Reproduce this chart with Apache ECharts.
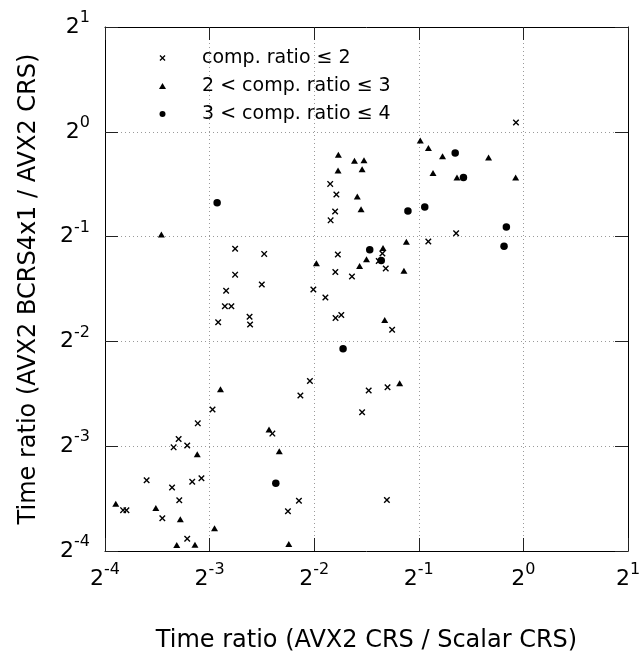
<!DOCTYPE html>
<html>
<head>
<meta charset="utf-8">
<script src="https://cdn.jsdelivr.net/npm/echarts@6/dist/echarts.min.js"></script>
<style>
  html, body { margin: 0; padding: 0; background: #fff; }
  #chart { width: 640px; height: 655px; }
</style>
</head>
<body>
<div id="chart"></div>
<script>
// values, stored as log2 exponents
const SERIES_NAMES = ["comp. ratio ≤ 2", "2 < comp. ratio ≤ 3", "3 < comp. ratio ≤ 4"];

// comp. ratio <= 2 (crosses)
const lowX = [-0.071, -1.847, -1.788, -1.800, -1.843, -0.643, -0.909, -2.756, -2.478, -1.774,
  -1.348, -1.383, -1.316, -2.756, -1.798, -1.639, -2.501, -2.842, -2.008, -1.893,
  -2.854, -2.792, -2.618, -2.918, -2.613, -1.796, -1.741, -1.255, -2.041, -2.132,
  -1.479, -1.299, -1.542, -2.972, -3.113, -2.400, -3.296, -3.344, -3.214, -3.602,
  -3.359, -3.166, -3.078, -3.290, -3.827, -3.795, -3.452, -3.214, -2.146, -2.251, -1.305];
const lowY = [0.089, -0.497, -0.599, -0.761, -0.845, -0.968, -1.046, -1.115, -1.165, -1.170,
  -1.162, -1.232, -1.304, -1.363, -1.337, -1.380, -1.458, -1.516, -1.504, -1.581,
  -1.665, -1.665, -1.764, -1.817, -1.839, -1.777, -1.748, -1.889, -2.378, -2.517,
  -2.469, -2.438, -2.676, -2.649, -2.782, -2.880, -2.932, -3.011, -2.994, -3.324,
  -3.394, -3.340, -3.305, -3.515, -3.610, -3.612, -3.687, -3.884, -3.521, -3.620, -3.513];

// 2 < comp. ratio <= 3 (triangles)
const midX = [-3.461, -1.769, -1.615, -1.524, -1.772, -1.542, -1.588, -1.552, -0.986, -0.908,
  -0.773, -0.333, -0.864, -0.635, -0.074, -1.119, -1.342, -1.979, -1.500, -1.566,
  -1.142, -1.326, -1.183, -2.896, -2.432, -2.334, -3.118, -3.897, -3.514, -3.280,
  -2.953, -3.314, -3.140, -2.243];
const midY = [-0.979, -0.220, -0.277, -0.272, -0.370, -0.358, -0.618, -0.740, -0.083, -0.155,
  -0.234, -0.245, -0.392, -0.436, -0.436, -1.049, -1.108, -1.254, -1.216, -1.280,
  -1.326, -1.796, -2.399, -2.457, -2.840, -3.049, -3.077, -3.548, -3.589, -3.696,
  -3.782, -3.942, -3.940, -3.933];

// 3 < comp. ratio <= 4 (dots)
const highX = [-2.928, -0.652, -0.573, -1.104, -0.943, -0.163, -0.185, -1.469, -1.359, -1.724, -2.367];
const highY = [-0.678, -0.202, -0.435, -0.756, -0.718, -0.909, -1.091, -1.125, -1.229, -2.071, -3.354];

const FONT = "DejaVu Sans";
const CROSS = "path://M0,1.5L1.5,0L5,3.5L8.5,0L10,1.5L6.5,5L10,8.5L8.5,10L5,6.5L1.5,10L0,8.5L3.5,5Z";

const toPoints = (xs, ys) => xs.map((e, i) => [Math.pow(2, e), Math.pow(2, ys[i])]);

const powLabel = (v) => "{b|2}{s|" + Math.round(Math.log2(v)) + "}";
const labelRich = {
  b: { fontSize: 22, lineHeight: 22, fontFamily: FONT, color: "#000", verticalAlign: "bottom" },
  s: { fontSize: 16, lineHeight: 16, fontFamily: FONT, color: "#000", verticalAlign: "bottom", padding: [0, 0, 12, 0] },
};

const tickStyle = { show: true, inside: true, length: 13, lineStyle: { color: "#222", width: 1 } };
const lineStyle = { show: true, lineStyle: { color: "#000", width: 1 } };
const gridLine = { show: true, lineStyle: { color: "#9a9a9a", type: [1, 3], width: 1 } };

const chart = echarts.init(document.getElementById("chart"), null, { renderer: "canvas" });

chart.setOption({
  backgroundColor: "#fff",
  animation: false,
  textStyle: { fontFamily: FONT },
  grid: { left: 105, right: 12, top: 27, bottom: 104, containLabel: false, outerBoundsMode: "none" },
  legend: {
    orient: "vertical",
    left: 154,
    top: 43,
    itemWidth: 7,
    itemHeight: 6,
    itemGap: 8,
    data: SERIES_NAMES,
    textStyle: { fontSize: 19, lineHeight: 20, color: "#000", fontFamily: FONT, padding: [0, 0, 0, 31] },
    selectedMode: false,
  },
  xAxis: [
    {
      type: "log", logBase: 2, min: 1 / 16, max: 2, splitNumber: 5,
      name: "Time ratio (AVX2 CRS / Scalar CRS)",
      nameLocation: "middle", nameGap: 78,
      nameTextStyle: { fontSize: 24, color: "#000", fontFamily: FONT },
      axisLine: lineStyle, axisTick: tickStyle, splitLine: gridLine, minorTick: { show: false },
      axisLabel: { formatter: powLabel, rich: labelRich, margin: 17 },
    },
    {
      type: "log", logBase: 2, min: 1 / 16, max: 2, splitNumber: 5, position: "top",
      axisLine: lineStyle, axisTick: tickStyle, splitLine: { show: false },
      axisLabel: { show: false },
    },
  ],
  yAxis: [
    {
      type: "log", logBase: 2, min: 1 / 16, max: 2, splitNumber: 5,
      name: "Time ratio (AVX2 BCRS4x1 / AVX2 CRS)",
      nameLocation: "middle", nameGap: 64,
      nameTextStyle: { fontSize: 24, color: "#000", fontFamily: FONT },
      axisLine: lineStyle, axisTick: tickStyle, splitLine: gridLine,
      axisLabel: { formatter: powLabel, rich: labelRich, margin: 15 },
    },
    {
      type: "log", logBase: 2, min: 1 / 16, max: 2, splitNumber: 5, position: "right",
      axisLine: lineStyle, axisTick: tickStyle, splitLine: { show: false },
      axisLabel: { show: false },
    },
  ],
  series: [
    {
      name: SERIES_NAMES[0], type: "scatter", xAxisIndex: 0, yAxisIndex: 0,
      symbol: CROSS, symbolSize: 6.5,
      itemStyle: { color: "#000", opacity: 1 },
      data: toPoints(lowX, lowY),
    },
    {
      name: SERIES_NAMES[1], type: "scatter", xAxisIndex: 0, yAxisIndex: 0,
      symbol: "triangle", symbolSize: [7, 6],
      itemStyle: { color: "#000", opacity: 1 },
      data: toPoints(midX, midY),
    },
    {
      name: SERIES_NAMES[2], type: "scatter", xAxisIndex: 0, yAxisIndex: 0,
      symbol: "circle", symbolSize: 7.5,
      itemStyle: { color: "#000", opacity: 1 },
      data: toPoints(highX, highY),
    },
  ],
});
</script>
</body>
</html>
